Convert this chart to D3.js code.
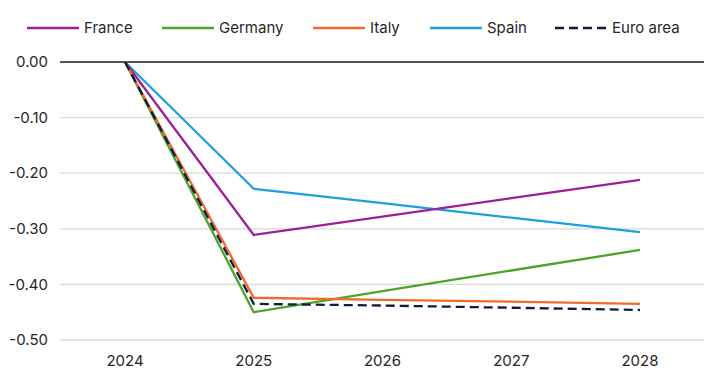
<!DOCTYPE html>
<html>
<head>
<meta charset="utf-8">
<script src="https://cdn.jsdelivr.net/npm/d3@7"></script>
<style>
  body { margin: 0; background: #fff; }
  text { font-family: Inter, "Liberation Sans", sans-serif; fill: #262626; }
</style>
</head>
<body>
<div id="chart"></div>
<script>
'use strict';

// years on the x axis
var years = ['2024', '2025', '2026', '2027', '2028'];

// series values
var france   = [0, -0.311, -0.278, -0.245, -0.212];
var germany  = [0, -0.450, -0.412, -0.375, -0.338];
var italy    = [0, -0.424, -0.428, -0.431, -0.435];
var spain    = [0, -0.228, -0.254, -0.280, -0.306];
var euroArea = [0, -0.435, -0.438, -0.442, -0.446];

var seriesNames = ['France', 'Germany', 'Italy', 'Spain', 'Euro area'];
var yTicks = [0, -0.1, -0.2, -0.3, -0.4, -0.5];

var series = [
  { name: 'France',    values: france,   color: '#9c1f9a', dash: null },
  { name: 'Germany',   values: germany,  color: '#4aa52a', dash: null },
  { name: 'Italy',     values: italy,    color: '#f06a2a', dash: null },
  { name: 'Spain',     values: spain,    color: '#1ea0da', dash: null },
  { name: 'Euro area', values: euroArea, color: '#0d1f3c', dash: '9,5' }
];

var width = 704, height = 375;
var margin = { left: 60, right: 0, top: 62, bottom: 35 };

var svg = d3.select('#chart').append('svg')
  .attr('width', width)
  .attr('height', height);

var x = d3.scalePoint()
  .domain(years)
  .range([125, 640]);

var y = d3.scaleLinear()
  .domain([0, -0.5])
  .range([62, 340]);

// plain hyphen for negatives, like the original
var fmt = function(d) { return d3.format('.2f')(d).replace('\u2212', '-'); };

// gridlines
svg.append('g').selectAll('line')
  .data(yTicks.filter(function(d) { return d !== 0; }))
  .enter().append('line')
  .attr('x1', margin.left)
  .attr('x2', width)
  .attr('y1', function(d) { return y(d); })
  .attr('y2', function(d) { return y(d); })
  .attr('stroke', '#d9d9d9')
  .attr('stroke-width', 1.3);

// y tick labels
svg.append('g').selectAll('text')
  .data(yTicks)
  .enter().append('text')
  .attr('x', 48)
  .attr('y', function(d) { return y(d); })
  .attr('dy', '0.35em')
  .attr('text-anchor', 'end')
  .style('font-size', '15px')
  .text(fmt);

// x tick labels
svg.append('g').selectAll('text')
  .data(years)
  .enter().append('text')
  .attr('x', function(d) { return x(d); })
  .attr('y', 366)
  .attr('text-anchor', 'middle')
  .style('font-size', '15px')
  .text(function(d) { return d; });

// zero line
svg.append('line')
  .attr('x1', margin.left)
  .attr('x2', width)
  .attr('y1', y(0))
  .attr('y2', y(0))
  .attr('stroke', '#1a1a1a')
  .attr('stroke-width', 1.5);

var line = d3.line()
  .x(function(d, i) { return x(years[i]); })
  .y(function(d) { return y(d); });

// draw Spain, France, Germany, Italy, then Euro on top
var drawOrder = [3, 0, 1, 2, 4];
svg.append('g').selectAll('path')
  .data(drawOrder.map(function(i) { return series[i]; }))
  .enter().append('path')
  .attr('d', function(d) { return line(d.values); })
  .attr('fill', 'none')
  .attr('stroke', function(d) { return d.color; })
  .attr('stroke-width', 2.3)
  .attr('stroke-dasharray', function(d) { return d.dash; });

// legend
var legendX = [27, 162, 313, 430, 555];
var legend = svg.append('g').selectAll('g')
  .data(series)
  .enter().append('g')
  .attr('transform', function(d, i) { return 'translate(' + legendX[i] + ',28)'; });

legend.append('line')
  .attr('x1', 0)
  .attr('x2', 52)
  .attr('stroke', function(d) { return d.color; })
  .attr('stroke-width', 2.3)
  .attr('stroke-dasharray', function(d) { return d.dash; });

legend.append('text')
  .attr('x', 57)
  .attr('dy', '0.35em')
  .style('font-size', '15px')
  .text(function(d, i) { return seriesNames[i]; });
</script>
</body>
</html>
